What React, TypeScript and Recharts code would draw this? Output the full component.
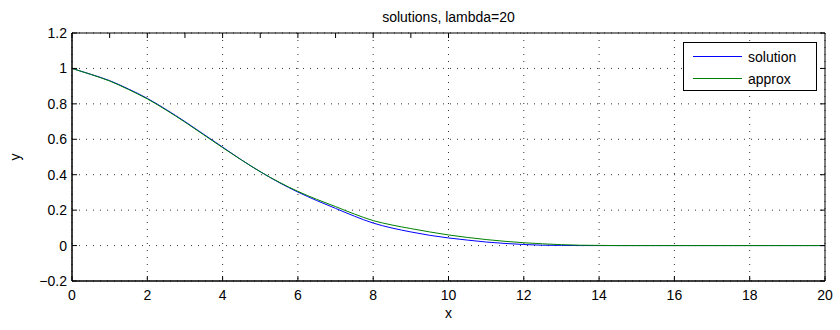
import React from 'react'
import { LineChart, Line, XAxis, YAxis, CartesianGrid, Legend } from 'recharts'

const xValues = [
  0, 0.5, 1, 1.5, 2, 2.5, 3, 3.5, 4, 4.5, 5, 5.5, 6, 6.5, 7, 7.5, 8, 8.5, 9, 9.5,
  10, 10.5, 11, 11.5, 12, 12.5, 13, 13.5, 14, 14.5, 15, 15.5, 16, 16.5, 17, 17.5, 18, 18.5, 19, 19.5, 20,
]
const solution = [
  1.0, 0.967, 0.931, 0.884, 0.831, 0.768, 0.7, 0.628, 0.556, 0.484, 0.417, 0.356, 0.302, 0.254, 0.21, 0.166,
  0.127, 0.099, 0.077, 0.058, 0.043, 0.031, 0.02, 0.012, 0.006, 0.002, 0.001, 0, 0, 0, 0, 0, 0, 0, 0, 0,
  0, 0, 0, 0, 0,
]
const approx = [
  1.0, 0.966, 0.929, 0.881, 0.828, 0.765, 0.697, 0.625, 0.553, 0.483, 0.417, 0.358, 0.306, 0.261, 0.22, 0.178,
  0.141, 0.116, 0.096, 0.077, 0.06, 0.046, 0.034, 0.024, 0.016, 0.01, 0.005, 0.002, 0.001, 0, 0, 0, 0, 0, 0,
  0, 0, 0, 0, 0, 0,
]
const seriesNames = ['solution', 'approx']
const xTicks = [0, 2, 4, 6, 8, 10, 12, 14, 16, 18, 20]
const yTicks = [-0.2, 0, 0.2, 0.4, 0.6, 0.8, 1, 1.2]

const data = xValues.map((x, i) => ({ x, solution: solution[i], approx: approx[i] }))

const fmt = (v: number) => (v < 0 ? '\u2212' + Math.abs(v) : String(v))

// matlab style: ticks point inwards, on all four sides
const BottomTick = ({ x, y, payload }: any) => (
  <g>
    <line x1={x} y1={y} x2={x} y2={y - 5} stroke="#000" />
    <text x={x} y={y + 19} textAnchor="middle" fontSize={14} fill="#000">
      {fmt(payload.value)}
    </text>
  </g>
)
const TopTick = ({ x, y }: any) => <line x1={x} y1={y} x2={x} y2={y + 5} stroke="#000" />
const LeftTick = ({ x, y, payload }: any) => (
  <g>
    <line x1={x} y1={y} x2={x + 5} y2={y} stroke="#000" />
    <text x={x - 5} y={y} dy="0.36em" textAnchor="end" fontSize={14} fill="#000">
      {fmt(payload.value)}
    </text>
  </g>
)
const RightTick = ({ x, y }: any) => <line x1={x} y1={y} x2={x - 5} y2={y} stroke="#000" />

const LegendBox = ({ payload }: any) => {
  const items = [...(payload || [])].sort(
    (a: any, b: any) => seriesNames.indexOf(a.value) - seriesNames.indexOf(b.value)
  )
  return (
    <div
      style={{
        width: 134,
        height: 49,
        boxSizing: 'border-box',
        border: '1px solid #000',
        background: '#fff',
        paddingTop: 2,
      }}
    >
      {items.map((p: any) => (
        <div key={p.value} style={{ height: 22, display: 'flex', alignItems: 'center' }}>
          <div style={{ width: 49, height: 1, background: p.color, marginLeft: 9 }} />
          <span style={{ marginLeft: 6, fontSize: 14, color: '#000', position: 'relative', top: 1 }}>{p.value}</span>
        </div>
      ))}
    </div>
  )
}

export default function App() {
  return (
    <div style={{ position: 'absolute', left: 0, top: 0, fontFamily: '"Liberation Sans", Arial, sans-serif' }}>
      <LineChart width={840} height={330} data={data} margin={{ top: 32, right: 14, bottom: 48, left: 71 }}>
        <CartesianGrid stroke="#333" strokeDasharray="1 6" />
        <XAxis
          dataKey="x"
          type="number"
          domain={[0, 20]}
          ticks={xTicks}
          height={1}
          tickSize={0}
          tickMargin={0}
          tickLine={false}
          tick={<BottomTick />}
          axisLine={{ stroke: '#000', strokeWidth: 1.5 }}
          interval={0}
          label={({ viewBox }: any) => (
            <text x={viewBox.x + viewBox.width / 2} y={viewBox.y + 37} textAnchor="middle" fontSize={14} fill="#000">
              x
            </text>
          )}
        />
        <XAxis
          xAxisId="top"
          orientation="top"
          type="number"
          domain={[0, 20]}
          allowDataOverflow
          ticks={xTicks}
          height={1}
          tickSize={0}
          tickMargin={0}
          tickLine={false}
          tick={<TopTick />}
          axisLine={{ stroke: '#000' }}
          interval={0}
          label={({ viewBox }: any) => (
            <text x={viewBox.x + viewBox.width / 2} y={viewBox.y - 10} textAnchor="middle" fontSize={14} fill="#000">
              solutions, lambda=20
            </text>
          )}
        />
        <YAxis
          type="number"
          domain={[-0.2, 1.2]}
          allowDataOverflow
          ticks={yTicks}
          width={1}
          tickSize={0}
          tickMargin={0}
          tickLine={false}
          tick={<LeftTick />}
          axisLine={{ stroke: '#000', strokeWidth: 1.5 }}
          interval={0}
          label={({ viewBox }: any) => {
            const lx = viewBox.x - 51
            const ly = viewBox.y + viewBox.height / 2
            return (
              <text x={lx} y={ly} transform={`rotate(-90, ${lx}, ${ly})`} textAnchor="middle" fontSize={14} fill="#000">
                y
              </text>
            )
          }}
        />
        <YAxis
          yAxisId="right"
          orientation="right"
          type="number"
          domain={[-0.2, 1.2]}
          allowDataOverflow
          ticks={yTicks}
          width={1}
          tickSize={0}
          tickMargin={0}
          tickLine={false}
          tick={<RightTick />}
          axisLine={{ stroke: '#000' }}
          interval={0}
        />
        <Legend
          layout="horizontal"
          verticalAlign="middle"
          align="center"
          content={<LegendBox />}
          wrapperStyle={{ left: 683, top: 42, right: 'auto', bottom: 'auto', width: 134, height: 49 }}
        />
        <Line type="monotone" dataKey="solution" name="solution" stroke="#0000ff" strokeWidth={1} dot={false} isAnimationActive={false} />
        <Line type="monotone" dataKey="approx" name="approx" stroke="#008000" strokeWidth={1} dot={false} isAnimationActive={false} />
      </LineChart>
    </div>
  )
}
